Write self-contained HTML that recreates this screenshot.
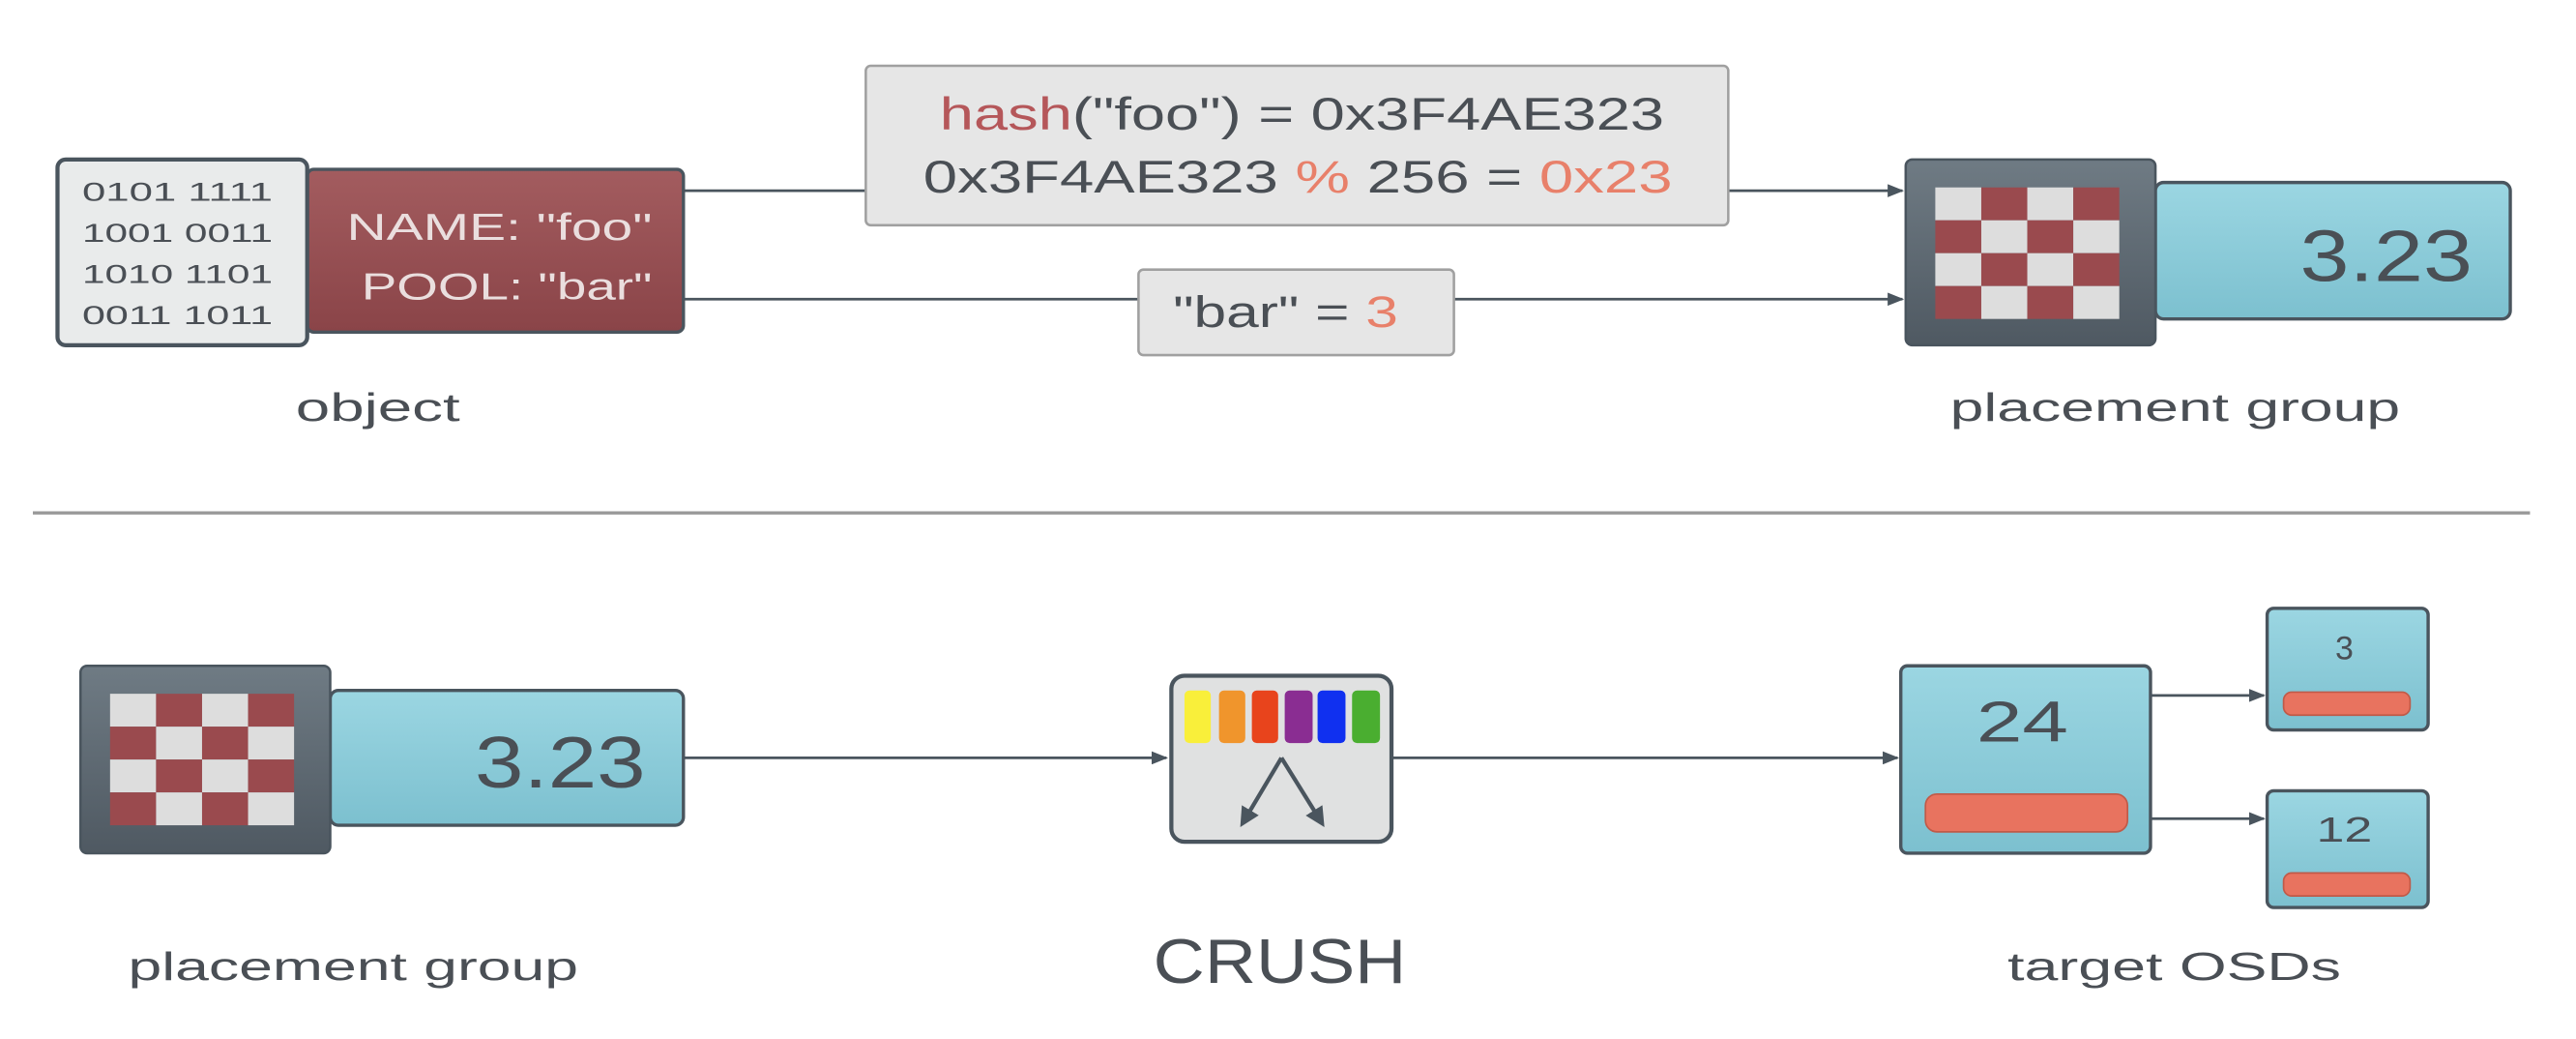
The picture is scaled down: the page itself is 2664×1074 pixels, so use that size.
<!DOCTYPE html>
<html><head><meta charset="utf-8"><style>
html,body{margin:0;padding:0;background:#fff;}
svg{display:block;}
text{font-family:"Liberation Sans",sans-serif;fill:#4a4f55;}
</style></head><body>
<svg width="2664" height="1074" viewBox="0 0 1568 632" preserveAspectRatio="none" xmlns="http://www.w3.org/2000/svg">
<defs>
<linearGradient id="red" x1="0" y1="0" x2="0" y2="1"><stop offset="0" stop-color="#a35c5f"/><stop offset="1" stop-color="#8a4448"/></linearGradient>
<linearGradient id="dark" x1="0" y1="0" x2="0" y2="1"><stop offset="0" stop-color="#6f7b84"/><stop offset="1" stop-color="#4f5962"/></linearGradient>
<linearGradient id="blue" x1="0" y1="0" x2="0" y2="1"><stop offset="0" stop-color="#9bd6e2"/><stop offset="1" stop-color="#7cc0cf"/></linearGradient>
<marker id="ar" markerWidth="10" markerHeight="8" refX="9" refY="4" orient="auto" markerUnits="userSpaceOnUse"><path d="M0,0 L10,4 L0,8 z" fill="#4a555e"/></marker>
<marker id="ar2" markerWidth="12" markerHeight="12" refX="6" refY="6" orient="auto" markerUnits="userSpaceOnUse"><path d="M0,0 L12,6 L0,12 z" fill="#4a555e"/></marker>
<g id="chk">
<rect x="0" y="0" width="28" height="20" fill="#ddd"/><rect x="28" y="0" width="28" height="20" fill="#9a4a4e"/><rect x="56" y="0" width="28" height="20" fill="#ddd"/><rect x="84" y="0" width="28" height="20" fill="#9a4a4e"/>
<rect x="0" y="20" width="28" height="20" fill="#9a4a4e"/><rect x="28" y="20" width="28" height="20" fill="#ddd"/><rect x="56" y="20" width="28" height="20" fill="#9a4a4e"/><rect x="84" y="20" width="28" height="20" fill="#ddd"/>
<rect x="0" y="40" width="28" height="20" fill="#ddd"/><rect x="28" y="40" width="28" height="20" fill="#9a4a4e"/><rect x="56" y="40" width="28" height="20" fill="#ddd"/><rect x="84" y="40" width="28" height="20" fill="#9a4a4e"/>
<rect x="0" y="60" width="28" height="20" fill="#9a4a4e"/><rect x="28" y="60" width="28" height="20" fill="#ddd"/><rect x="56" y="60" width="28" height="20" fill="#9a4a4e"/><rect x="84" y="60" width="28" height="20" fill="#ddd"/>
</g>
</defs>

<line x1="416" y1="116" x2="1158" y2="116" stroke="#4a555e" stroke-width="1.6" marker-end="url(#ar)"/>
<line x1="416" y1="182" x2="1158" y2="182" stroke="#4a555e" stroke-width="1.6" marker-end="url(#ar)"/>

<rect x="187" y="103" width="229" height="99" rx="4" fill="url(#red)" stroke="#4a555e" stroke-width="2"/>
<rect x="35" y="97" width="152" height="113" rx="5" fill="#e9ebeb" stroke="#4a555e" stroke-width="2.5"/>
<g font-size="16">
<text x="50" y="122" textLength="116" lengthAdjust="spacingAndGlyphs">0101 1111</text>
<text x="50" y="147" textLength="116" lengthAdjust="spacingAndGlyphs">1001 0011</text>
<text x="50" y="172" textLength="116" lengthAdjust="spacingAndGlyphs">1010 1101</text>
<text x="50" y="197" textLength="116" lengthAdjust="spacingAndGlyphs">0011 1011</text>
</g>
<text x="211" y="146" font-size="23" textLength="186" lengthAdjust="spacingAndGlyphs" style="fill:#eadede">NAME: "foo"</text>
<text x="220" y="182" font-size="23" textLength="177" lengthAdjust="spacingAndGlyphs" style="fill:#eadede">POOL: "bar"</text>
<text x="180" y="256" font-size="24" textLength="100" lengthAdjust="spacingAndGlyphs">object</text>

<rect x="527" y="40" width="525" height="97" rx="3" fill="#e6e6e6" stroke="#a0a0a0" stroke-width="1.5"/>
<text x="572" y="79" font-size="28" textLength="441" lengthAdjust="spacingAndGlyphs"><tspan style="fill:#b5575a">hash</tspan>("foo") = 0x3F4AE323</text>
<text x="562" y="117" font-size="28" textLength="456" lengthAdjust="spacingAndGlyphs">0x3F4AE323 <tspan style="fill:#e8806a">%</tspan> 256 = <tspan style="fill:#e8806a">0x23</tspan></text>

<rect x="693" y="164" width="192" height="52" rx="3" fill="#e6e6e6" stroke="#a0a0a0" stroke-width="1.5"/>
<text x="714" y="199" font-size="27" textLength="137" lengthAdjust="spacingAndGlyphs">"bar" = <tspan style="fill:#e8806a">3</tspan></text>

<rect x="1312" y="111" width="216" height="83" rx="5" fill="url(#blue)" stroke="#4a555e" stroke-width="2"/>
<rect x="1160" y="97" width="152" height="113" rx="4" fill="url(#dark)" stroke="#4a555e" stroke-width="1.5"/>
<use href="#chk" x="1178" y="114"/>
<text x="1400" y="171" font-size="44" textLength="105" lengthAdjust="spacingAndGlyphs">3.23</text>
<text x="1187" y="256" font-size="24" textLength="274" lengthAdjust="spacingAndGlyphs">placement group</text>

<line x1="20" y1="312" x2="1540" y2="312" stroke="#999" stroke-width="2"/>

<line x1="416" y1="461" x2="710" y2="461" stroke="#4a555e" stroke-width="1.6" marker-end="url(#ar)"/>
<line x1="847" y1="461" x2="1155" y2="461" stroke="#4a555e" stroke-width="1.6" marker-end="url(#ar)"/>
<line x1="1309" y1="423" x2="1378" y2="423" stroke="#4a555e" stroke-width="1.6" marker-end="url(#ar)"/>
<line x1="1309" y1="498" x2="1378" y2="498" stroke="#4a555e" stroke-width="1.6" marker-end="url(#ar)"/>

<rect x="201" y="420" width="215" height="82" rx="5" fill="url(#blue)" stroke="#4a555e" stroke-width="2"/>
<rect x="49" y="405" width="152" height="114" rx="4" fill="url(#dark)" stroke="#4a555e" stroke-width="1.5"/>
<use href="#chk" x="67" y="422"/>
<text x="289" y="479" font-size="44" textLength="104" lengthAdjust="spacingAndGlyphs">3.23</text>
<text x="78" y="596" font-size="24" textLength="274" lengthAdjust="spacingAndGlyphs">placement group</text>

<rect x="713" y="411" width="134" height="101" rx="8" fill="#e0e1e1" stroke="#4a555e" stroke-width="2.5"/>
<rect x="721" y="420" width="16" height="32" rx="3" fill="#f9ef3a"/>
<rect x="742" y="420" width="16" height="32" rx="3" fill="#f0952c"/>
<rect x="762" y="420" width="16" height="32" rx="3" fill="#e8441c"/>
<rect x="782" y="420" width="17" height="32" rx="3" fill="#8a2d92"/>
<rect x="802" y="420" width="17" height="32" rx="3" fill="#1030f0"/>
<rect x="823" y="420" width="17" height="32" rx="3" fill="#4aae30"/>
<line x1="780" y1="461" x2="758" y2="498" stroke="#4a555e" stroke-width="2.5" marker-end="url(#ar2)"/>
<line x1="780" y1="461" x2="803" y2="498" stroke="#4a555e" stroke-width="2.5" marker-end="url(#ar2)"/>
<text x="702" y="598" font-size="38" textLength="154" lengthAdjust="spacingAndGlyphs">CRUSH</text>

<rect x="1157" y="405" width="152" height="114" rx="4" fill="url(#blue)" stroke="#4a555e" stroke-width="2"/>
<text x="1203" y="451" font-size="35" textLength="56" lengthAdjust="spacingAndGlyphs">24</text>
<rect x="1172" y="483" width="123" height="23" rx="7" fill="#e8735f" stroke="#c05a48" stroke-width="1"/>

<rect x="1380" y="370" width="98" height="74" rx="4" fill="url(#blue)" stroke="#4a555e" stroke-width="2"/>
<text x="1427" y="401" font-size="20" text-anchor="middle">3</text>
<rect x="1390" y="421" width="77" height="14" rx="5" fill="#e8735f" stroke="#c05a48" stroke-width="1"/>

<rect x="1380" y="481" width="98" height="71" rx="4" fill="url(#blue)" stroke="#4a555e" stroke-width="2"/>
<text x="1410" y="512" font-size="21" textLength="34" lengthAdjust="spacingAndGlyphs">12</text>
<rect x="1390" y="531" width="77" height="14" rx="5" fill="#e8735f" stroke="#c05a48" stroke-width="1"/>

<text x="1222" y="596" font-size="24" textLength="203" lengthAdjust="spacingAndGlyphs">target OSDs</text>
</svg>
</body></html>
